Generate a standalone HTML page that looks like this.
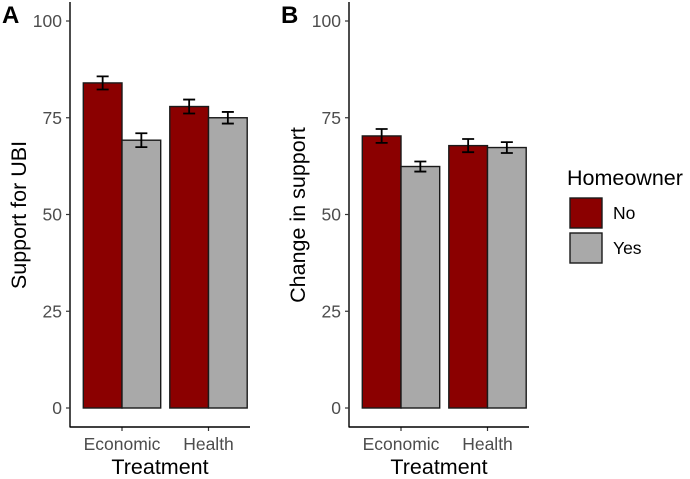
<!DOCTYPE html>
<html><head><meta charset="utf-8"><style>
body{margin:0;background:#fff;}
svg{display:block;font-family:"Liberation Sans",Arial,sans-serif;}
</style></head><body>
<svg id="chart" width="690" height="479"></svg>
<script>
const categories = ["Economic","Health"];
const groups = ["No","Yes"];
const panelA_no = [84, 77.9];
const panelA_yes = [69.2, 75];
const panelA_err_no = [1.7, 1.8];
const panelA_err_yes = [1.8, 1.5];
const panelB_no = [70.3, 67.8];
const panelB_yes = [62.4, 67.3];
const panelB_err_no = [1.8, 1.7];
const panelB_err_yes = [1.3, 1.4];
const yTicks = [0, 25, 50, 75, 100];
const colors = {No:"#8b0000", Yes:"#a9a9a9"};

const NS = "http://www.w3.org/2000/svg";
const svg = document.getElementById("chart");
function mk(tag, attrs, parent){
  const e = document.createElementNS(NS, tag);
  for (const k in attrs) e.setAttribute(k, attrs[k]);
  (parent||svg).appendChild(e); return e;
}
const yScale = v => 408 - v * 3.87;

function panel(x0, letter, ytitle, noV, yesV, noE, yesE, name){
  const g = mk("g", {});
  
  
  const axisX = x0, axisEnd = x0 + 180;
  const xCenter = i => axisX + 52 + i * 86.5;
  const bw = 38.7;
  categories.forEach((c, i) => {
    [[noV, noE, "No", -1], [yesV, yesE, "Yes", 0]].forEach(([vals, errs, grp, off]) => {
      const bx = xCenter(i) + off * bw;
      const r = mk("rect", {x:bx, y:yScale(vals[i]), width:bw, height:yScale(0)-yScale(vals[i]), fill:colors[grp], stroke:"#1a1a1a", "stroke-width":1.4}, g);
      
      
      const cx = bx + bw/2, t = yScale(vals[i] + errs[i]), b = yScale(vals[i] - errs[i]);
      const eb = mk("path", {d:`M${cx-6},${t}H${cx+6}M${cx},${t}V${b}M${cx-6},${b}H${cx+6}`, stroke:"#000", "stroke-width":1.8, fill:"none"}, g);
      
      
    });
    mk("line", {x1:xCenter(i), x2:xCenter(i), y1:427, y2:431, stroke:"#333", "stroke-width":1.2}, g);
    const t = mk("text", {x:xCenter(i), y:450, "text-anchor":"middle", "font-size":17.5, fill:"#4d4d4d"}, g);
    t.textContent = c;
    
    
  });
  const ya = mk("line", {x1:axisX, x2:axisX, y1:2, y2:427.5, stroke:"#000", "stroke-width":1.4}, g);
  
  
  const xa = mk("line", {x1:axisX, x2:axisEnd, y1:427, y2:427, stroke:"#000", "stroke-width":1.4}, g);
  
  
  yTicks.forEach(v => {
    mk("line", {x1:axisX-4, x2:axisX, y1:yScale(v), y2:yScale(v), stroke:"#333", "stroke-width":1.2}, g);
    const t = mk("text", {x:axisX-8, y:yScale(v)+6, "text-anchor":"end", "font-size":17.5, fill:"#4d4d4d"}, g);
    t.textContent = v;
    
    
  });
  const xt = mk("text", {x:(axisX+axisEnd)/2, y:474, "text-anchor":"middle", "font-size":21.5, fill:"#000"}, g);
  xt.textContent = "Treatment";
  
  
  const yt = mk("text", {x:0, y:0, transform:`translate(${axisX-44},215) rotate(-90)`, "text-anchor":"middle", "font-size":21.5, fill:"#000"}, g);
  yt.textContent = ytitle;
  
  
  const lt = mk("text", {x:axisX-68, y:23, "font-size":24, "font-weight":"bold", fill:"#000"}, g);
  lt.textContent = letter;
  
  
}
panel(70, "A", "Support for UBI", panelA_no, panelA_yes, panelA_err_no, panelA_err_yes, "panel-a");
panel(349, "B", "Change in support", panelB_no, panelB_yes, panelB_err_no, panelB_err_yes, "panel-b");

const lg = mk("g", {});


const lt = mk("text", {x:567, y:185, "font-size":21.5, fill:"#000"}, lg);
lt.textContent = "Homeowner";


groups.forEach((grp, i) => {
  const y = 198 + i * 35;
  const r = mk("rect", {x:570, y:y, width:32, height:30, fill:colors[grp], stroke:"#1a1a1a", "stroke-width":1.4}, lg);
  
  
  const t = mk("text", {x:613, y:y+21, "font-size":17.5, fill:"#000"}, lg);
  t.textContent = grp;
  
  
});
</script>
</body></html>
